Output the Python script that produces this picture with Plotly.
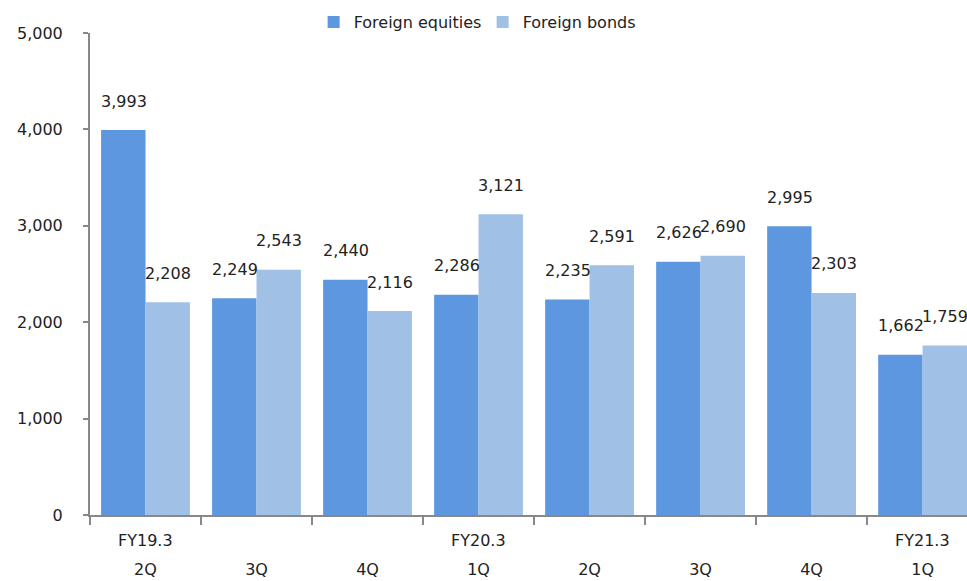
import plotly.graph_objects as go

periods = ["FY19.3 2Q", "FY19.3 3Q", "FY19.3 4Q", "FY20.3 1Q",
           "FY20.3 2Q", "FY20.3 3Q", "FY20.3 4Q", "FY21.3 1Q"]
quarters = ["2Q", "3Q", "4Q", "1Q", "2Q", "3Q", "4Q", "1Q"]
fiscal_years = ["FY19.3", "", "", "FY20.3", "", "", "", "FY21.3"]
equities = [3993, 2249, 2440, 2286, 2235, 2626, 2995, 1662]
bonds = [2208, 2543, 2116, 3121, 2591, 2690, 2303, 1759]

C_EQ = "#5C97DF"
C_BD = "#A1C0E6"
FONT = "DejaVu Sans"

fig = go.Figure()
fig.add_trace(go.Bar(name="Foreign equities", x=periods, y=equities,
                     marker=dict(color=C_EQ, line=dict(width=0))))
fig.add_trace(go.Bar(name="Foreign bonds", x=periods, y=bonds,
                     marker=dict(color=C_BD, line=dict(width=0))))

annotations = []
for p, v in zip(periods, equities):
    annotations.append(dict(x=p, y=v, xref="x", yref="y", text=f"{v:,}",
                            showarrow=False, xshift=-22, yshift=29,
                            yanchor="middle", font=dict(size=16, color="#222")))
for p, v in zip(periods, bonds):
    annotations.append(dict(x=p, y=v, xref="x", yref="y", text=f"{v:,}",
                            showarrow=False, xshift=22, yshift=29,
                            yanchor="middle", font=dict(size=16, color="#222")))
for p, fy in zip(periods, fiscal_years):
    if fy:
        annotations.append(dict(x=p, y=0, xref="x", yref="y", text=fy,
                                showarrow=False, yshift=-25, yanchor="middle",
                                font=dict(size=16, color="#222")))

fig.update_layout(
    width=967, height=581,
    margin=dict(l=90, r=0, t=33, b=66, autoexpand=False),
    paper_bgcolor="white", plot_bgcolor="white",
    font=dict(family=FONT, size=16, color="#222"),
    barmode="group", bargap=0.2, bargroupgap=0,
    annotations=annotations,
    legend=dict(orientation="h", x=0.255, xanchor="left",
                yref="container", y=1 - 22 / 581, yanchor="middle",
                entrywidth=124, entrywidthmode="pixels",
                font=dict(size=16, color="#222"), bgcolor="rgba(0,0,0,0)"),
    xaxis=dict(type="category", range=[-0.5, 7.4],
               tickmode="array", tickvals=periods, ticktext=quarters,
               tickson="boundaries", ticks="outside", ticklen=8,
               tickwidth=2, tickcolor="#888",
               showline=True, linecolor="#888", linewidth=2,
               showgrid=False, zeroline=False, automargin=False,
               ticklabelstandoff=39),
    yaxis=dict(range=[0, 5000], tickvals=[0, 1000, 2000, 3000, 4000, 5000],
               tickformat=",d", ticks="outside", ticklen=5, tickwidth=2,
               tickcolor="#888", showline=True, linecolor="#888", linewidth=2,
               showgrid=False, zeroline=False, automargin=False,
               ticklabelstandoff=17),
)

fig.write_html("out.html")
